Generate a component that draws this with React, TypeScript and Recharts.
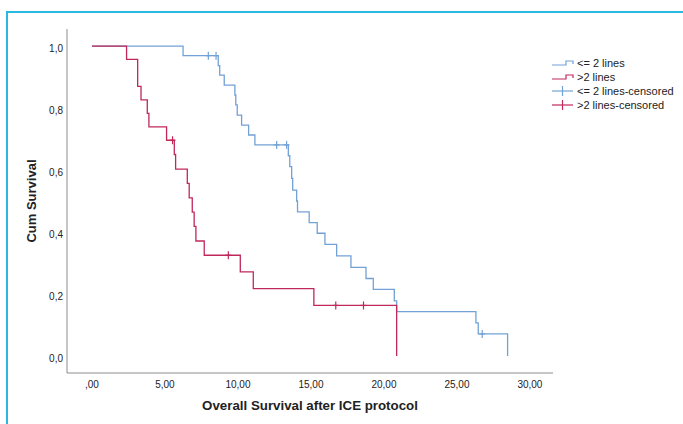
import { ComposedChart, Label, Line, Scatter, XAxis, YAxis } from 'recharts';

const COLORS = {
  blue: '#72a1d6', // <= 2 lines
  red: '#c0285a', // >2 lines
  axis: '#8c8c8c',
  text: '#222222',
  frame: '#2bb8e0',
};

// Kaplan-Meier steps: time (months) and cumulative survival after the event
const blueTimes = [
  0, 6.24, 8.65, 8.75, 9.06, 9.79, 9.85, 9.95, 10.25, 10.73, 11.16, 13.45, 13.55, 13.68, 13.75,
  14.02, 14.08, 14.88, 15.43, 15.96, 16.76, 17.74, 18.77, 19.27, 20.71, 20.87, 26.3, 26.46, 28.47,
];
const blueSurv = [
  1, 0.969, 0.937, 0.906, 0.874, 0.842, 0.81, 0.777, 0.745, 0.713, 0.681, 0.646, 0.611, 0.573,
  0.535, 0.5, 0.465, 0.43, 0.396, 0.36, 0.323, 0.286, 0.25, 0.215, 0.178, 0.143, 0.107, 0.071, 0,
];
const blueCensTimes = [7.97, 8.5, 12.65, 13.33, 26.73];
const blueCensSurv = [0.969, 0.969, 0.681, 0.681, 0.071];

const redTimes = [
  0, 2.37, 3.13, 3.36, 3.79, 3.9, 5.11, 5.64, 5.73, 6.53, 6.66, 6.87, 7.0, 7.12, 7.69, 10.16,
  11.05, 15.2, 20.87,
];
const redSurv = [
  1, 0.957, 0.87, 0.826, 0.783, 0.739, 0.696, 0.65, 0.603, 0.557, 0.51, 0.464, 0.418, 0.371,
  0.325, 0.271, 0.217, 0.163, 0,
];
const redCensTimes = [5.52, 9.34, 16.7, 18.6];
const redCensSurv = [0.696, 0.325, 0.163, 0.163];

const xTicks = [0, 5, 10, 15, 20, 25, 30];
const yTicks = [0, 0.2, 0.4, 0.6, 0.8, 1.0];

const zip = (t: number[], s: number[]) => t.map((v, i) => ({ t: v, s: s[i] }));

const blueData = zip(blueTimes, blueSurv);
const redData = zip(redTimes, redSurv);
const blueCens = zip(blueCensTimes, blueCensSurv);
const redCens = zip(redCensTimes, redCensSurv);

const fmtX = (v: number) => (v === 0 ? ',00' : v.toFixed(2).replace('.', ','));
const fmtY = (v: number) => v.toFixed(1).replace('.', ',');

const font = '"Liberation Sans", Arial, sans-serif';

function censorMark(color: string) {
  return (props: any) => {
    const { cx, cy } = props;
    return (
      <g stroke={color} strokeWidth={1.2}>
        <line x1={cx} y1={cy - 4} x2={cx} y2={cy + 4} />
        <line x1={cx - 3} y1={cy} x2={cx + 3} y2={cy} />
      </g>
    );
  };
}

const legendRows = [
  { label: '<= 2 lines', color: COLORS.blue, kind: 'step' },
  { label: '>2 lines', color: COLORS.red, kind: 'step' },
  { label: '<= 2 lines-censored', color: COLORS.blue, kind: 'cross' },
  { label: '>2 lines-censored', color: COLORS.red, kind: 'cross' },
];

function KmLegend() {
  return (
    <div style={{ position: 'absolute', left: 551, top: 56, fontFamily: font, fontSize: 11, color: COLORS.text }}>
      {legendRows.map((r) => (
        <div key={r.label} style={{ display: 'flex', alignItems: 'center', height: 14 }}>
          <svg width={24} height={12} style={{ marginRight: 2 }}>
            {r.kind === 'step' ? (
              <path d="M1,8 H15 V4 H22 V7" fill="none" stroke={r.color} strokeWidth={1.2} />
            ) : (
              <g stroke={r.color} strokeWidth={1.2}>
                <line x1={1} y1={6} x2={22} y2={6} />
                <line x1={11.5} y1={1} x2={11.5} y2={11} />
              </g>
            )}
          </svg>
          <span>{r.label}</span>
        </div>
      ))}
    </div>
  );
}

export default function App() {
  return (
    <div style={{ position: 'absolute', left: 0, top: 0, width: 683, height: 424, background: '#fff', overflow: 'hidden' }}>
      {/* cyan frame, only top and left edges visible */}
      <div
        style={{
          position: 'absolute',
          left: 6,
          top: 11,
          width: 700,
          height: 450,
          borderLeft: `2px solid ${COLORS.frame}`,
          borderTop: `2px solid ${COLORS.frame}`,
        }}
      />
      <ComposedChart
        width={683}
        height={424}
        margin={{ top: 29, right: 130, bottom: 21, left: 37 }}
        style={{ position: 'absolute', left: 0, top: 0 }}
      >
        <XAxis
          type="number"
          dataKey="t"
          domain={[-1.71, 31.58]}
          ticks={xTicks}
          interval={0}
          allowDataOverflow
          tickFormatter={fmtX}
          tickLine={false}
          tickSize={4}
          tickMargin={4}
          height={30}
          axisLine={{ stroke: COLORS.axis }}
          tick={{ fill: COLORS.text, fontSize: 10, fontFamily: font }}
        >
          <Label
            value="Overall Survival after ICE protocol"
            position="bottom"
            offset={-2}
            style={{ fill: COLORS.text, fontSize: 13.3, fontWeight: 'bold', fontFamily: font }}
          />
        </XAxis>
        <YAxis
          type="number"
          dataKey="s"
          domain={[-0.055, 1.055]}
          ticks={yTicks}
          interval={0}
          allowDataOverflow
          tickFormatter={fmtY}
          tickLine={false}
          tickSize={2}
          tickMargin={2}
          width={30}
          axisLine={{ stroke: COLORS.axis }}
          tick={{ fill: COLORS.text, fontSize: 10, fontFamily: font, dy: 2 }}
        >
          <Label
            value="Cum Survival"
            angle={-90}
            position="insideLeft"
            offset={-6}
            style={{ fill: COLORS.text, fontSize: 13, fontWeight: 'bold', fontFamily: font, textAnchor: 'middle' }}
          />
        </YAxis>
        <Line
          data={blueData}
          dataKey="s"
          type="stepAfter"
          stroke={COLORS.blue}
          strokeWidth={1.3}
          dot={false}
          isAnimationActive={false}
          name="<= 2 lines"
        />
        <Line
          data={redData}
          dataKey="s"
          type="stepAfter"
          stroke={COLORS.red}
          strokeWidth={1.3}
          dot={false}
          isAnimationActive={false}
          name=">2 lines"
        />
        <Scatter
          data={blueCens}
          dataKey="s"
          shape={censorMark(COLORS.blue)}
          isAnimationActive={false}
          name="<= 2 lines-censored"
        />
        <Scatter
          data={redCens}
          dataKey="s"
          shape={censorMark(COLORS.red)}
          isAnimationActive={false}
          name=">2 lines-censored"
        />
      </ComposedChart>
      <KmLegend />
    </div>
  );
}
